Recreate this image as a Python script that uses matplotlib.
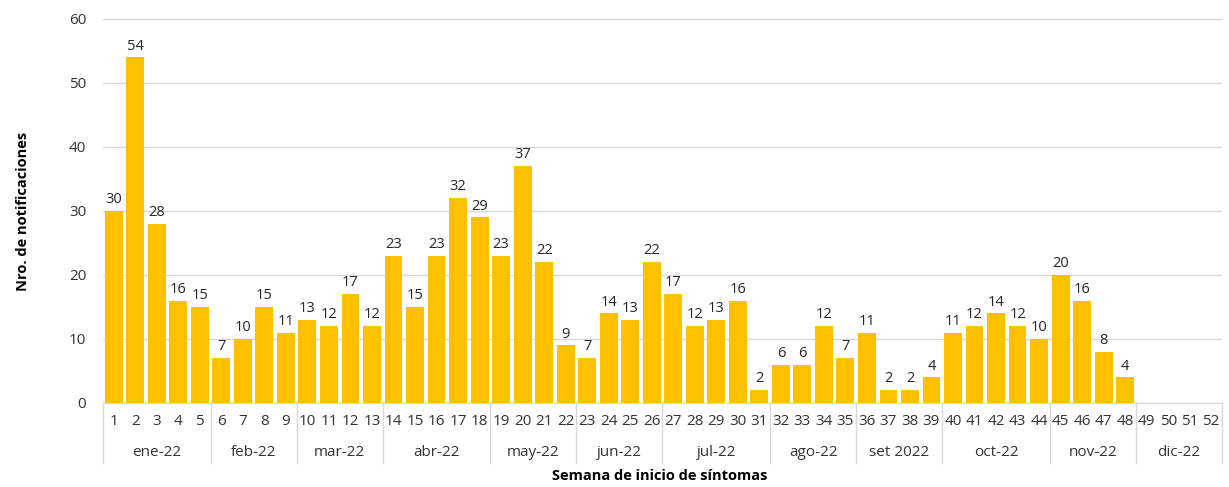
import matplotlib
matplotlib.use("Agg")
import matplotlib.pyplot as plt
import matplotlib.transforms as mtransforms

plt.rcParams['font.family'] = ['Open Sans', 'DejaVu Sans']

weeks = list(range(1, 53))
values = [30, 54, 28, 16, 15, 7, 10, 15, 11, 13, 12, 17, 12, 23, 15, 23, 32, 29,
          23, 37, 22, 9, 7, 14, 13, 22, 17, 12, 13, 16, 2, 6, 6, 12, 7, 11, 2, 2, 4,
          11, 12, 14, 12, 10, 20, 16, 8, 4, None, None, None, None]
months = ["ene-22", "feb-22", "mar-22", "abr-22", "may-22", "jun-22", "jul-22",
          "ago-22", "set 2022", "oct-22", "nov-22", "dic-22"]
month_sizes = [5, 4, 4, 5, 4, 4, 5, 4, 4, 5, 4, 4]

fig = plt.figure(figsize=(12.29, 4.87), dpi=100)
ax = fig.add_axes([0.0838, 0.1725, 0.9105, 0.7885])

xs = list(range(len(weeks)))
bar_x = [x for x, v in zip(xs, values) if v is not None]
bar_v = [v for v in values if v is not None]
ax.bar(bar_x, bar_v, width=0.83, color="#FFC000", zorder=3)
for x, v in zip(bar_x, bar_v):
    ax.text(x, v + 0.6, str(v), ha="center", va="bottom", fontsize=10.5, color="#262626")

ax.set_xlim(-0.5, len(weeks) - 0.5)
ax.set_ylim(0, 60)
ax.set_yticks(range(0, 61, 10))
ax.grid(axis="y", color="#D9D9D9", linewidth=1, zorder=0)
for s in ["top", "right", "left"]:
    ax.spines[s].set_visible(False)
ax.spines["bottom"].set_color("#D9D9D9")
ax.tick_params(axis="y", length=0, labelsize=11, labelcolor="#333333", pad=12)
ax.set_xticks(xs)
ax.set_xticklabels([str(w) for w in weeks])
ax.tick_params(axis="x", length=0, labelsize=11, labelcolor="#333333", pad=8)

trans = mtransforms.blended_transform_factory(ax.transData, ax.transAxes)
start = 0
bounds = [start - 0.5]
for name, n in zip(months, month_sizes):
    center = start + (n - 1) / 2
    ax.text(center, -0.128, name, transform=trans, ha="center", va="center",
            fontsize=11, color="#333333")
    start += n
    bounds.append(start - 0.5)
for b in bounds:
    ax.plot([b, b], [0, -0.155], transform=trans, color="#D9D9D9", lw=1, clip_on=False)

ax.set_ylabel("Nro. de notificaciones", fontsize=10.5, fontweight="bold", labelpad=28)
fig.text(0.537, 0.022, "Semana de inicio de síntomas", ha="center", va="center",
         fontsize=10.5, fontweight="bold")

fig.savefig("out.png", dpi=100)
